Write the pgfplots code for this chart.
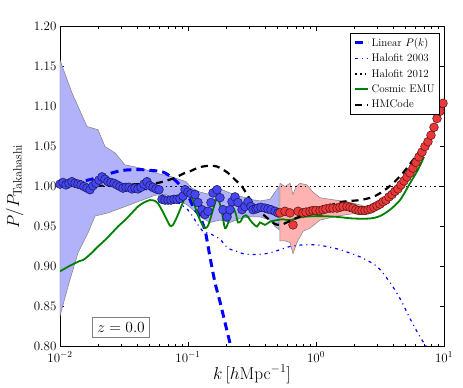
\RequirePackage{fix-cm}
\documentclass[border=0pt]{standalone}
\usepackage{pgfplots}
\pgfplotsset{compat=1.18}
\definecolor{bandblue}{rgb}{0.70,0.70,0.98}
\definecolor{bandred}{rgb}{1.0,0.70,0.70}
\definecolor{ptblue}{rgb}{0.27,0.27,0.95}
\definecolor{ptred}{rgb}{0.92,0.22,0.22}
\definecolor{emugreen}{rgb}{0,0.5,0}

\begin{document}
\begin{tikzpicture}
\begin{axis}[
    scale only axis,
    width=384pt, height=320pt,
    xmode=log,
    xmin=0.01, xmax=10,
    ymin=0.8, ymax=1.2,
    ytick={0.80,0.85,0.90,0.95,1.00,1.05,1.10,1.15,1.20},
    yticklabel style={/pgf/number format/.cd, fixed, fixed zerofill, precision=2},
    xticklabel style={yshift=-1.5pt},
    tick label style={font=\fontsize{13}{15}\selectfont},
    tick align=inside,
    major tick length=4.5pt, minor tick length=2.3pt,
    every tick/.style={black, line width=0.6pt},
    axis line style={line width=0.9pt},
    xlabel={$k\,[h\mathrm{Mpc}^{-1}]$},
    ylabel={$P/P_{\mathrm{Takahashi}}$},
    every axis x label/.style={at={(axis description cs:0.5,-0.087)}, anchor=center, font=\fontsize{17.3}{20}\selectfont},
    every axis y label/.style={at={(axis description cs:-0.118,0.5)}, rotate=90, anchor=center, font=\fontsize{17.3}{20}\selectfont},
    legend style={at={(rel axis cs:0.9896,0.981)}, anchor=north east, draw=black, line width=0.7pt,
        font=\fontsize{11}{13}\selectfont, inner sep=3pt, row sep=2.2pt},
    legend cell align=left,
    legend image code/.code={\draw[#1] (0pt,0pt) -- (13pt,0pt);},
]
% error bands
\addplot[fill=bandblue, draw=gray, line width=0.5pt, forget plot] coordinates {
 (0.0100,1.158) (0.01241,1.117) (0.01625,1.075) (0.01981,1.071) (0.02247,1.050) (0.02690,1.042)
 (0.03220,1.027) (0.04294,1.023) (0.05523,1.017) (0.07499,1.012) (0.09647,1.006) (0.1075,0.998)
 (0.1241,0.993) (0.1485,0.990) (0.1778,0.997) (0.2129,0.992) (0.2548,0.988) (0.3051,0.984)
 (0.3652,0.982) (0.4371,0.984) (0.4783,0.993) (0.5140,1.000)
 (0.5140,0.946) (0.4783,0.950) (0.4371,0.958) (0.3652,0.962) (0.3051,0.962) (0.2548,0.960)
 (0.2129,0.955) (0.1778,0.958) (0.1485,0.955) (0.1241,0.962) (0.1075,0.972) (0.09647,0.978)
 (0.07499,0.986) (0.06732,0.990) (0.05523,0.989) (0.04068,0.981) (0.02996,0.973) (0.02371,0.967)
 (0.01877,0.963) (0.01655,0.942) (0.01382,0.917) (0.01155,0.875) (0.0100,0.838) (0.0100,1.158)
};
\addplot[fill=bandred, draw=gray, line width=0.5pt, forget plot] coordinates {
 (0.5233,1.004) (0.5726,1.000) (0.6264,1.004) (0.6612,0.990) (0.6978,1.000) (0.7499,1.004)
 (0.8505,1.002) (0.9475,0.993) (1.0746,0.986) (1.2864,0.984) (1.7466,0.981) (2.2070,0.977)
 (2.7384,0.972)
 (2.7384,0.969) (1.9453,0.966) (1.4590,0.963) (1.0746,0.958) (0.8977,0.948) (0.7915,0.944)
 (0.7105,0.930) (0.6612,0.916) (0.6264,0.930) (0.5726,0.932) (0.5233,0.932) (0.5233,1.004)
};
% simulation points
\addplot[only marks, mark=*, mark size=4.4pt, mark options={fill=ptblue, draw=ptblue!35!black, line width=0.5pt}, forget plot] coordinates {
 (0.0100,1.003) (0.01055,1.005) (0.01114,1.002) (0.01176,1.004) (0.01241,1.006) (0.01310,1.004)
 (0.01382,1.003) (0.01459,1.002) (0.01540,1.000) (0.01625,0.998) (0.01715,0.996) (0.01810,1.001)
 (0.01911,1.004) (0.02017,1.008) (0.02129,1.012) (0.02247,1.009) (0.02371,1.006) (0.02503,1.005)
 (0.02642,1.004) (0.02788,1.002) (0.02943,1.000) (0.03106,0.998) (0.03278,0.999) (0.03460,0.999)
 (0.03652,0.997) (0.03854,0.998) (0.04068,0.997) (0.04294,0.999) (0.04532,1.003) (0.04783,1.006)
 (0.05048,1.001) (0.05328,0.999) (0.05623,0.997) (0.05935,0.996) (0.06264,0.984) (0.06612,0.983)
 (0.06978,0.983) (0.07365,0.983) (0.07774,0.984) (0.08205,0.984) (0.08660,0.985) (0.09140,0.988)
 (0.09475,0.996) (0.1000,0.993) (0.1055,0.991) (0.1134,0.990) (0.1197,0.980) (0.1286,0.971)
 (0.1358,0.965) (0.1433,0.969) (0.1512,0.980) (0.1568,0.992) (0.1685,0.996) (0.1778,0.986)
 (0.1877,0.971) (0.2017,0.962) (0.2129,0.971) (0.2207,0.981) (0.2329,0.987) (0.2458,0.980)
 (0.2642,0.971) (0.2788,0.975) (0.2943,0.981) (0.3106,0.975) (0.3220,0.971) (0.3398,0.972)
 (0.3523,0.973) (0.3718,0.974) (0.3996,0.973) (0.4217,0.972) (0.4451,0.971) (0.4783,0.969)
 (0.5048,0.967)
};
\addplot[only marks, mark=*, mark size=4.4pt, mark options={fill=ptred, draw=ptred!35!black, line width=0.5pt}, forget plot] coordinates {
 (0.5233,0.967) (0.5726,0.969) (0.6264,0.967) (0.6612,0.952) (0.7234,0.969) (0.7915,0.967)
 (0.8354,0.968) (0.8977,0.969) (0.9475,0.970) (1.000,0.970) (1.0746,0.970) (1.1342,0.971)
 (1.1970,0.972) (1.2864,0.973) (1.3577,0.973) (1.4590,0.973) (1.5399,0.974) (1.6251,0.975)
 (1.7466,0.975) (1.8432,0.974) (1.9453,0.973) (2.0535,0.971) (2.1677,0.970) (2.2877,0.970)
 (2.4144,0.970) (2.5483,0.971) (2.6896,0.972) (2.8387,0.974) (2.9961,0.976) (3.1623,0.978)
 (3.3376,0.981) (3.5227,0.983) (3.7180,0.987) (3.9243,0.990) (4.1419,0.994) (4.3714,0.997)
 (4.6138,1.002) (4.8697,1.007) (5.1398,1.012) (5.4249,1.017) (5.7257,1.023) (6.0430,1.030)
 (6.3780,1.037) (6.7316,1.043) (7.1051,1.050) (7.4989,1.056) (7.9149,1.064) (8.3540,1.074)
 (8.8173,1.085) (9.3057,1.094) (9.8218,1.104)
};
% model curves
\addplot[blue, line width=3pt, dash pattern=on 8pt off 5pt, smooth] coordinates {
 (0.0100,1.004) (0.01310,1.005) (0.01655,1.008) (0.02054,1.012) (0.02548,1.017) (0.03051,1.020)
 (0.03652,1.021) (0.04371,1.021) (0.05233,1.020) (0.06043,1.019) (0.06612,1.017) (0.07234,1.013)
 (0.07915,1.008) (0.08660,1.002) (0.09822,0.992) (0.1094,0.975) (0.1241,0.962) (0.1358,0.945)
 (0.1433,0.926) (0.1485,0.912) (0.1625,0.880) (0.1778,0.856) (0.1945,0.830) (0.2168,0.799)
};
\addlegendentry{Linear $P(k)$}
\addplot[blue, line width=1.2pt, dash pattern=on 3pt off 4pt on 1pt off 4pt, smooth] coordinates {
 (0.0100,1.002) (0.02943,1.000) (0.05048,0.995) (0.07234,0.985) (0.08660,0.978) (0.09822,0.972)
 (0.1094,0.962) (0.1197,0.952) (0.1310,0.944) (0.1485,0.941) (0.1778,0.934) (0.2054,0.923)
 (0.2414,0.919) (0.2690,0.916) (0.3460,0.915) (0.4371,0.917) (0.5233,0.921) (0.6264,0.925)
 (0.7915,0.927) (1.0182,0.927) (1.2864,0.924) (1.5399,0.921) (2.2070,0.912) (2.9961,0.900)
 (3.7855,0.880) (4.5315,0.860) (5.4249,0.835) (6.4938,0.812) (7.3652,0.799)
};
\addlegendentry{Halofit 2003}
\addplot[black, line width=1.8pt, dash pattern=on 1.6pt off 3.2pt] coordinates {
 (0.01,1.0) (10,1.0)
};
\addlegendentry{Halofit 2012}
\addplot[emugreen, line width=1.8pt, smooth, tension=0.5] coordinates {
 (0.0100,0.894) (0.01197,0.901) (0.01433,0.907) (0.01512,0.908) (0.01715,0.915) (0.01981,0.925)
 (0.02247,0.933) (0.02548,0.942) (0.02839,0.950) (0.03220,0.958) (0.03652,0.967) (0.04068,0.975)
 (0.04532,0.980) (0.05048,0.983) (0.05523,0.982) (0.05829,0.979) (0.06378,0.968) (0.06854,0.958)
 (0.07234,0.951) (0.07635,0.952) (0.08205,0.962) (0.08660,0.971) (0.09306,0.983) (0.09822,0.988)
 (0.1037,0.990) (0.1094,0.983) (0.1134,0.975) (0.1241,0.958) (0.1358,0.948) (0.1433,0.951)
 (0.1485,0.958) (0.1596,0.975) (0.1685,0.986) (0.1778,0.978) (0.1843,0.967) (0.1945,0.948)
 (0.2054,0.954) (0.2129,0.962) (0.2247,0.973) (0.2371,0.965) (0.2458,0.955) (0.2595,0.957)
 (0.2690,0.962) (0.2839,0.964) (0.2943,0.962) (0.3162,0.955) (0.3460,0.950) (0.3652,0.955)
 (0.3996,0.952) (0.4371,0.956) (0.4958,0.958) (0.5523,0.959) (0.6264,0.958) (0.7915,0.962)
 (1.0746,0.963) (1.4590,0.962) (1.9453,0.960) (2.6416,0.960) (3.1623,0.963) (3.7855,0.971)
 (4.5315,0.983) (5.4249,1.004) (6.2643,1.021) (6.9783,1.037)
};
\addlegendentry{Cosmic EMU}
\addplot[black, line width=2.2pt, dash pattern=on 7pt off 5pt, smooth] coordinates {
 (0.0100,1.001) (0.01433,1.001) (0.02054,1.001) (0.02943,1.002) (0.04217,1.003) (0.05523,1.004)
 (0.06378,1.006) (0.07635,1.010) (0.08660,1.014) (0.09475,1.017) (0.1037,1.019) (0.1176,1.023)
 (0.1310,1.025) (0.1485,1.026) (0.1685,1.025) (0.1877,1.021) (0.2054,1.017) (0.2247,1.011)
 (0.2458,1.005) (0.2642,1.000) (0.2943,0.988) (0.3338,0.975) (0.3854,0.965) (0.4371,0.958)
 (0.4783,0.953) (0.5233,0.952) (0.5726,0.954) (0.7105,0.961) (0.8977,0.967) (1.2186,0.975)
 (1.6251,0.981) (2.2070,0.983) (2.7881,0.987) (3.3376,0.994) (3.9955,1.004) (4.7830,1.017)
 (5.7257,1.033) (6.7316,1.048)
};
\addlegendentry{HMCode}
\node[draw=gray, fill=white, line width=0.8pt, inner xsep=5pt, inner ysep=5pt,
      font=\fontsize{15.5}{18}\selectfont] at (rel axis cs:0.159,0.059) {$z = 0.0$};
\end{axis}
\path ([xshift=-60pt,yshift=-39pt]current axis.south west) rectangle ([xshift=19pt,yshift=26.5pt]current axis.north east);
\end{tikzpicture}
\end{document}
